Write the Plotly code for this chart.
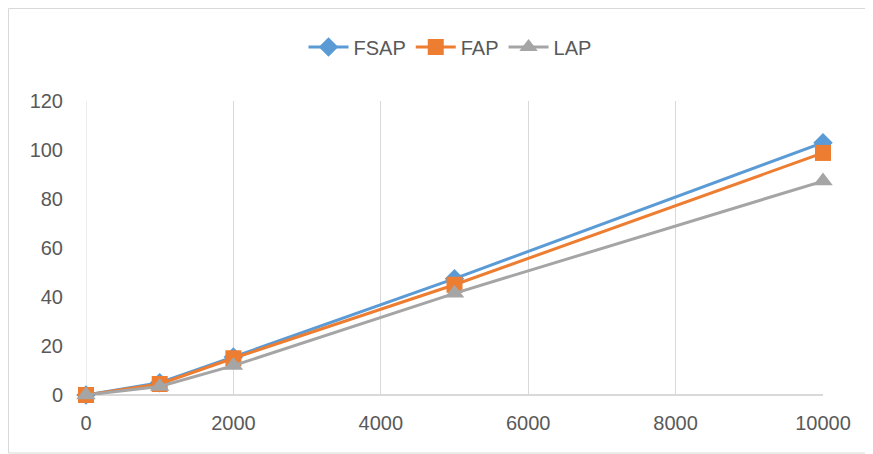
import plotly.graph_objects as go

x_vals = [0, 1000, 2000, 5000, 10000]
fsap = [0, 5, 15.5, 47.5, 103]
fap = [0, 4.5, 15, 45, 98.8]
lap = [0, 3.5, 12, 41.5, 87.3]

x_ticks = [0, 2000, 4000, 6000, 8000, 10000]
x_tick_text = ["0", "2000", "4000", "6000", "8000", "10000"]
y_ticks = [0, 20, 40, 60, 80, 100, 120]
y_tick_text = ["0", "20", "40", "60", "80", "100", "120"]

font_family = "Liberation Sans, sans-serif"
text_color = "#595959"

W, H = 865, 446
L, R, T, B = 78, 50, 93, 59
pw, ph = W - L - R, H - T - B

fig = go.Figure()
fig.add_trace(go.Scatter(x=x_vals, y=fsap, name="FSAP", mode="lines+markers",
                         cliponaxis=False,
                         line=dict(color="#5B9BD5", width=3),
                         marker=dict(symbol="diamond", size=15, color="#5B9BD5")))
fig.add_trace(go.Scatter(x=x_vals, y=fap, name="FAP", mode="lines+markers",
                         cliponaxis=False,
                         line=dict(color="#ED7D31", width=3),
                         marker=dict(symbol="square", size=16, color="#ED7D31")))
fig.add_trace(go.Scatter(x=x_vals, y=lap, name="LAP", mode="lines+markers",
                         cliponaxis=False,
                         line=dict(color="#A5A5A5", width=3),
                         marker=dict(symbol="triangle-up", size=17, color="#A5A5A5")))

border = dict(color="#D9D9D9", width=1)
xl, xr = -(L - 0.5) / pw, 1 + (R + 20) / pw
yb, yt = -(B - 1) / ph, 1 + (T - 0.5) / ph

fig.update_layout(
    width=W, height=H,
    margin=dict(l=L, r=R, t=T, b=B, autoexpand=False),
    paper_bgcolor="white", plot_bgcolor="white",
    font=dict(family=font_family, size=20, color=text_color),
    showlegend=True,
    legend=dict(orientation="h", xref="container", yref="container",
                x=442 / W, xanchor="center", y=1 - 39 / H, yanchor="middle",
                font=dict(size=20, color=text_color), itemwidth=40),
    xaxis=dict(range=[0, 10000], tickvals=x_ticks, ticktext=x_tick_text,
               showgrid=True, gridcolor="#D9D9D9", automargin=False,
               gridwidth=1, zeroline=False, showline=False, ticks="",
               ticklabelstandoff=14),
    yaxis=dict(range=[0, 120], tickvals=y_ticks, ticktext=y_tick_text,
               showgrid=False, zeroline=True, automargin=False,
               zerolinecolor="#D9D9D9", zerolinewidth=1.5, showline=False, ticks="",
               ticklabelstandoff=22),
    shapes=[
        dict(type="line", xref="paper", yref="paper", x0=xl, x1=xr, y0=yt, y1=yt, line=border, layer="below"),
        dict(type="line", xref="paper", yref="paper", x0=xl, x1=xl, y0=yb, y1=yt, line=border, layer="below"),
        dict(type="line", xref="paper", yref="paper", x0=xl, x1=xr, y0=yb, y1=yb, line=border, layer="below"),
        dict(type="line", xref="x", yref="paper", x0=0, x1=0, y0=0, y1=1,
             line=dict(color="#D9D9D9", width=1), layer="below"),
    ],
)

fig.write_html("out.html")
